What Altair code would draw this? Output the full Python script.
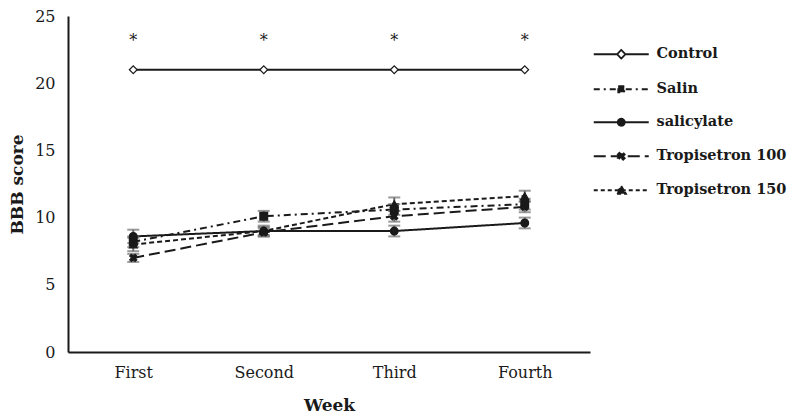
import math
import altair as alt
import pandas as pd

weeks = ["First", "Second", "Third", "Fourth"]
series_names = ["Control", "Salin", "salicylate", "Tropisetron 100", "Tropisetron 150"]

control = [21, 21, 21, 21]
salin = [8.2, 10.1, 10.6, 11.0]
salicylate = [8.6, 9.0, 9.0, 9.6]
trop100 = [7.0, 8.9, 10.1, 10.8]
trop150 = [8.0, 9.0, 11.0, 11.6]

control_err = [0, 0, 0, 0]
salin_err = [0.4, 0.4, 0.4, 0.4]
salicylate_err = [0.5, 0.3, 0.4, 0.4]
trop100_err = [0.3, 0.3, 0.4, 0.4]
trop150_err = [0.5, 0.4, 0.5, 0.4]

star_marks = ["*", "*", "*", "*"]

values = [control, salin, salicylate, trop100, trop150]
errors = [control_err, salin_err, salicylate_err, trop100_err, trop150_err]

rows = []
for name, vals, errs in zip(series_names, values, errors):
    for i, w in enumerate(weeks):
        rows.append({
            "series": name, "week": w, "value": vals[i], "err": errs[i],
            "lo": vals[i] - errs[i], "hi": vals[i] + errs[i],
            "star": star_marks[i] if name == "Control" else "",
        })
df = pd.DataFrame(rows)

# ---- styles ----
INK = "#1a1a1a"
SERIF = "DejaVu Serif"
dashes = [[1, 0], [7, 4, 2, 4], [1, 0], [11, 5], [5, 3]]
legend_dashes = [[1, 0], [6, 4, 2, 4], [1, 0], [12, 5], [4, 3]]


def x_path(a, w):
    pts = [(-w, -a), (w, -a), (w, -w), (a, -w), (a, w), (w, w), (w, a),
           (-w, a), (-w, w), (-a, w), (-a, -w), (-w, -w)]
    s = 1 / math.sqrt(2)
    rot = [((x - y) * s, (x + y) * s) for x, y in pts]
    return "M" + "L".join(f"{x:.3f},{y:.3f}" for x, y in rot) + "Z"


point_shapes = ["diamond", "square", "circle", x_path(1.0, 0.3), "triangle-up"]
point_fill = ["white", INK, INK, INK, INK]
legend_stroke = [INK, INK, INK, INK, INK]

L = 5.5
legend_paths = [
    f"M{-L},0H-0.85M0.85,0H{L}M-0.85,0L0,-0.85L0.85,0L0,0.85Z",
    f"M{-L},0H{L}M-0.6,-0.6H0.6V0.6H-0.6Z",
    f"M{-L},0H{L}M-0.7,0A0.7,0.7,0,1,0,0.7,0A0.7,0.7,0,1,0,-0.7,0Z",
    f"M{-L},0H{L}" + x_path(0.75, 0.22),
    f"M{-L},0H{L}M0,-0.85L0.95,0.7H-0.95Z",
]

x_enc = alt.X(
    "week:N", sort=weeks,
    scale=alt.Scale(type="point", domain=weeks, padding=0.5),
    axis=alt.Axis(title="Week", labelAngle=0, ticks=False, labelPadding=12,
                  titlePadding=17, labelFontSize=16, titleFontSize=17),
)
y_enc = alt.Y(
    "value:Q",
    scale=alt.Scale(domain=[0, 25], nice=False),
    axis=alt.Axis(title="BBB score", values=[0, 5, 10, 15, 20, 25], ticks=False,
                  grid=False, labelPadding=13, titlePadding=8,
                  labelFontSize=16, titleFontSize=17),
)

base = alt.Chart(df).encode(x=x_enc)

lines = base.mark_line(color=INK, strokeWidth=2).encode(
    y=y_enc,
    detail="series:N",
    strokeDash=alt.StrokeDash("series:N", scale=alt.Scale(domain=series_names, range=dashes), legend=None),
)

err_base = base.transform_filter("datum.err > 0")
err_rules = err_base.mark_rule(color="#6e6e6e", strokeWidth=2).encode(
    y=alt.Y("lo:Q"), y2="hi:Q")
cap_hi = err_base.mark_tick(color="#6e6e6e", size=12, thickness=2).encode(y=alt.Y("hi:Q"))
cap_lo = err_base.mark_tick(color="#6e6e6e", size=12, thickness=2).encode(y=alt.Y("lo:Q"))

points = base.mark_point(filled=True, size=60, stroke=INK, strokeWidth=1.2, opacity=1).encode(
    y=alt.Y("value:Q"),
    shape=alt.Shape("series:N", scale=alt.Scale(domain=series_names, range=point_shapes), legend=None),
    fill=alt.Fill("series:N", scale=alt.Scale(domain=series_names, range=point_fill), legend=None),
)

stars = base.transform_filter("datum.series == 'Control'").mark_text(
    dy=-29, fontSize=16, font=SERIF, color=INK
).encode(y=alt.Y("value:Q"), text="star:N")

leg = alt.Legend(
    title=None, orient="none", legendX=546, legendY=31,
    labelFont=SERIF, labelFontWeight="bold", labelFontSize=14.5, labelColor=INK,
    labelOffset=28, rowPadding=18, symbolSize=100,
    symbolStrokeColor=INK, symbolStrokeWidth=1.8,
)

legend_layer = alt.Chart(df).transform_filter("false").mark_point(
    filled=False, size=100, strokeWidth=1.8, opacity=1
).encode(
    shape=alt.Shape("series:N", scale=alt.Scale(domain=series_names, range=legend_paths), legend=leg),
    fill=alt.Fill("series:N", scale=alt.Scale(domain=series_names, range=point_fill), legend=leg),
    stroke=alt.Stroke("series:N", scale=alt.Scale(domain=series_names, range=legend_stroke), legend=leg),
    strokeDash=alt.StrokeDash("series:N", scale=alt.Scale(domain=series_names, range=legend_dashes), legend=leg),
)

chart = alt.layer(
    lines, err_rules, cap_hi, cap_lo, points, stars, legend_layer
).resolve_scale(
    shape="independent", fill="independent", stroke="independent", strokeDash="independent"
).properties(
    width=522, height=336, background="white", padding=0
).configure_view(
    stroke=None
).configure_axis(
    labelFont=SERIF, titleFont=SERIF, labelColor=INK, titleColor=INK,
    titleFontWeight="bold", domainColor=INK, domainWidth=2,
)

chart.save("out.html", embed_options={"renderer": "svg", "actions": False})
